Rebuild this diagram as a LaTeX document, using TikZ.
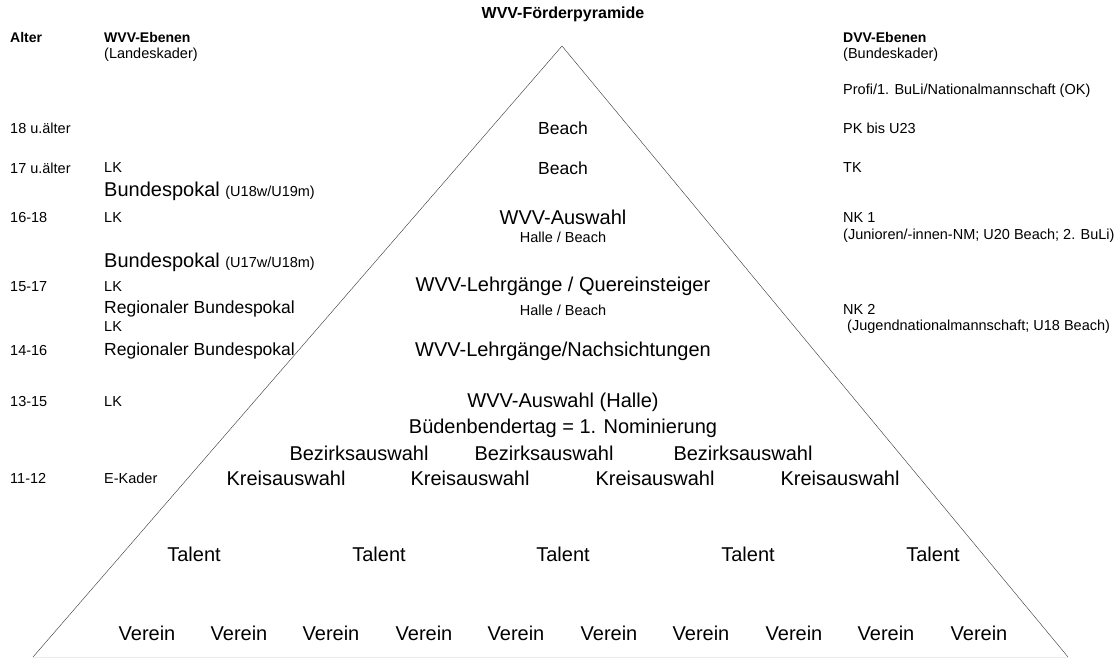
\documentclass[tikz,border=0pt]{standalone}
\usepackage{fontspec}
\setmainfont{Liberation Sans}
\tikzset{
	smalltxt/.style={inner sep=0pt, font=\fontsize{14.5}{16}\selectfont},
	midtxt/.style={inner sep=0pt, font=\fontsize{17.5}{19}\selectfont},
	bigtxt/.style={inner sep=0pt, font=\fontsize{20}{22}\selectfont},
	headtxt/.style={inner sep=0pt, font=\bfseries\fontsize{14}{16}\selectfont},
	titletxt/.style={inner sep=0pt, font=\bfseries\fontsize{16}{18}\selectfont},
}
\begin{document}
\begin{tikzpicture}[x=1pt, y=-1pt]
	        \useasboundingbox (0, 0) rectangle (1118, 659);
	        % pyramid corners
	        \coordinate (top) at (562, 46);
	        \coordinate (left) at (33, 657);
	        \coordinate (right) at (1068, 657);
	        
	        \draw [black!8] (left) -- (right);
	        \draw [black!80] (top) -- (left);
	        \draw [black!80] (top) -- (right);
	        
	        % headings
	        \node [titletxt] at (563, 14) (title) {WVV-Förderpyramide};
	        \node [headtxt, anchor=west] at (10, 37) (alter) {Alter};
	        \node [headtxt, anchor=west] at (104, 37) (wvv) {WVV-Ebenen};
	        \node [smalltxt, anchor=west] at (104, 55) (lk) {(Landeskader)};
	        \node [headtxt, anchor=west] at (843, 37) (dvv) {DVV-Ebenen};
	        \node [smalltxt, anchor=west] at (843, 55) (bk) {(Bundeskader)};
	        \node [smalltxt, anchor=west] at (843, 91) (ok) {Profi/1. BuLi/Nationalmannschaft (OK)};
	        
	        % age 18
	        \node [smalltxt, anchor=west] at (10, 128) (a18) {18 u.älter};
	        \node [midtxt] at (563, 128) (beach1) {Beach};
	        \node [smalltxt, anchor=west] at (843, 128) (pk) {PK bis U23};
	        
	        % age 17
	        \node [smalltxt, anchor=west] at (10, 168) (a17) {17 u.älter};
	        \node [smalltxt, anchor=west] at (104, 168) (lk17) {LK};
	        \node [midtxt] at (563, 168) (beach2) {Beach};
	        \node [smalltxt, anchor=west] at (843, 168) (tk) {TK};
	        \node [bigtxt, anchor=west] at (104, 191) (bp1) {Bundespokal {\fontsize{14.5}{16}\selectfont(U18w/U19m)}};
	        
	        % age 16-18
	        \node [smalltxt, anchor=west] at (10, 218) (a16) {16-18};
	        \node [smalltxt, anchor=west] at (104, 218) (lk16) {LK};
	        \node [bigtxt] at (563, 217) (auswahl) {WVV-Auswahl};
	        \node [smalltxt] at (563, 237) (halle1) {Halle / Beach};
	        \node [smalltxt, anchor=west] at (843, 218) (nk1) {NK 1};
	        \node [smalltxt, anchor=west] at (843, 236) (nk1txt) {(Junioren/-innen-NM; U20 Beach; 2. BuLi)};
	        \node [bigtxt, anchor=west] at (104, 262) (bp2) {Bundespokal {\fontsize{14.5}{16}\selectfont(U17w/U18m)}};
	        
	        % age 15-17
	        \node [smalltxt, anchor=west] at (10, 287) (a15) {15-17};
	        \node [smalltxt, anchor=west] at (104, 287) (lk15) {LK};
	        \node [bigtxt] at (563, 286) (quer) {WVV-Lehrgänge / Quereinsteiger};
	        \node [midtxt, anchor=west] at (104, 309) (rbp1) {Regionaler Bundespokal};
	        \node [smalltxt] at (563, 310) (halle2) {Halle / Beach};
	        \node [smalltxt, anchor=west] at (843, 309) (nk2) {NK 2};
	        \node [smalltxt, anchor=west] at (104, 327) (lk14) {LK};
	        \node [smalltxt, anchor=west] at (843, 327) (nk2txt) {\ (Jugendnationalmannschaft; U18 Beach)};
	        
	        % age 14-16
	        \node [smalltxt, anchor=west] at (10, 351) (a14) {14-16};
	        \node [midtxt, anchor=west] at (104, 351) (rbp2) {Regionaler Bundespokal};
	        \node [bigtxt] at (563, 351) (nach) {WVV-Lehrgänge/Nachsichtungen};
	        
	        % age 13-15
	        \node [smalltxt, anchor=west] at (10, 402) (a13) {13-15};
	        \node [smalltxt, anchor=west] at (104, 402) (lk13) {LK};
	        \node [bigtxt] at (563, 402) (halle3) {WVV-Auswahl (Halle)};
	        \node [bigtxt] at (563, 428) (bueden) {Büdenbendertag = 1. Nominierung};
	        \node [bigtxt] at (359, 453) (bz1) {Bezirksauswahl};
	        \node [bigtxt] at (544, 453) (bz2) {Bezirksauswahl};
	        \node [bigtxt] at (743, 453) (bz3) {Bezirksauswahl};
	        
	        % age 11-12
	        \node [smalltxt, anchor=west] at (10, 478) (a11) {11-12};
	        \node [smalltxt, anchor=west] at (104, 478) (ek) {E-Kader};
	        \node [bigtxt] at (286, 478) (kr1) {Kreisauswahl};
	        \node [bigtxt] at (470, 478) (kr2) {Kreisauswahl};
	        \node [bigtxt] at (655, 478) (kr3) {Kreisauswahl};
	        \node [bigtxt] at (840, 478) (kr4) {Kreisauswahl};
	        
	        % talents
	        \node [bigtxt] at (194, 554) (t1) {Talent};
	        \node [bigtxt] at (379, 554) (t2) {Talent};
	        \node [bigtxt] at (563, 554) (t3) {Talent};
	        \node [bigtxt] at (748, 554) (t4) {Talent};
	        \node [bigtxt] at (933, 554) (t5) {Talent};
	        
	        % clubs
	        \node [bigtxt] at (147, 633) (v1) {Verein};
	        \node [bigtxt] at (239, 633) (v2) {Verein};
	        \node [bigtxt] at (331, 633) (v3) {Verein};
	        \node [bigtxt] at (424, 633) (v4) {Verein};
	        \node [bigtxt] at (516, 633) (v5) {Verein};
	        \node [bigtxt] at (609, 633) (v6) {Verein};
	        \node [bigtxt] at (701, 633) (v7) {Verein};
	        \node [bigtxt] at (794, 633) (v8) {Verein};
	        \node [bigtxt] at (886, 633) (v9) {Verein};
	        \node [bigtxt] at (979, 633) (v10) {Verein};
        \end{tikzpicture}
\end{document}
